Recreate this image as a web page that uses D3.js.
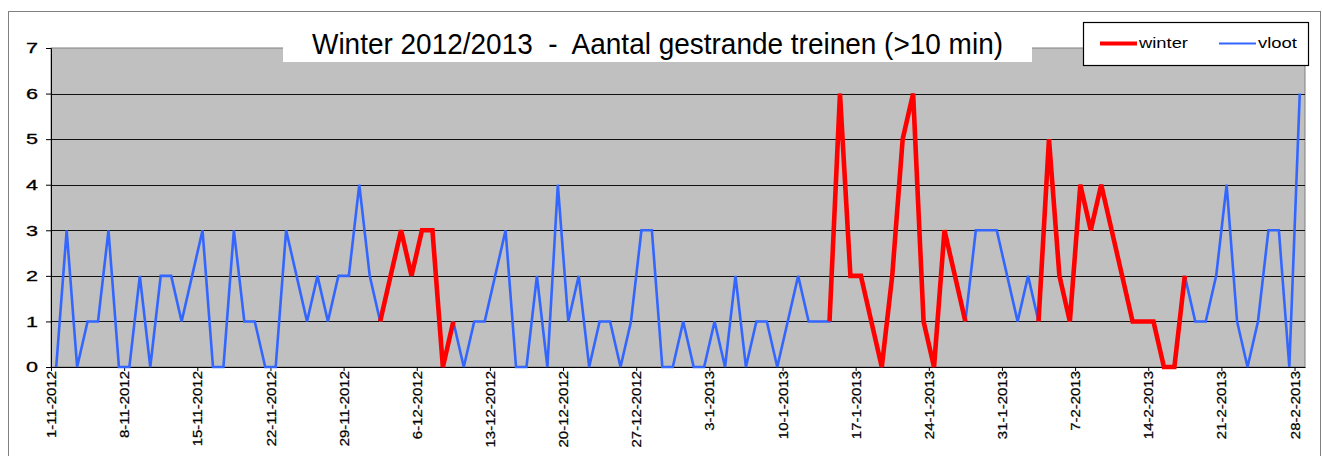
<!DOCTYPE html>
<html>
<head>
<meta charset="utf-8">
<script src="https://cdn.jsdelivr.net/npm/d3@7"></script>
<style>
  body { margin: 0; background: #fff; }
  svg text { font-family: "Liberation Sans", Arial, sans-serif; }
</style>
</head>
<body>
<svg id="chart" width="1322" height="456"></svg>
<script>
// aantal gestrande treinen per dag, 1-11-2012 t/m 28-2-2013 (120 dagen)
const vloot = [
  0, 3, 0, 1, 1, 3, 0, 0, 2, 0,
  2, 2, 1, 2, 3, 0, 0, 3, 1, 1,
  0, 0, 3, 2, 1, 2, 1, 2, 2, 4,
  2, 1, 2, 3, 2, 3, 3, 0, 1, 0,
  1, 1, 2, 3, 0, 0, 2, 0, 4, 1,
  2, 0, 1, 1, 0, 1, 3, 3, 0, 0,
  1, 0, 0, 1, 0, 2, 0, 1, 1, 0,
  1, 2, 1, 1, 1, 6, 2, 2, 1, 0,
  2, 5, 6, 1, 0, 3, 2, 1, 3, 3,
  3, 2, 1, 2, 1, 5, 2, 1, 4, 3,
  4, 3, 2, 1, 1, 1, 0, 0, 2, 1,
  1, 2, 4, 1, 0, 1, 3, 3, 0, 6
];

// winterperiodes (dagindex begin/eind, inclusief)
const winterPeriodes = [[31, 38], [74, 87], [94, 108]];

const tickLabels = [
  "1-11-2012", "8-11-2012", "15-11-2012", "22-11-2012", "29-11-2012",
  "6-12-2012", "13-12-2012", "20-12-2012", "27-12-2012", "3-1-2013",
  "10-1-2013", "17-1-2013", "24-1-2013", "31-1-2013", "7-2-2013",
  "14-2-2013", "21-2-2013", "28-2-2013"
];

const winter = vloot.map((v, i) =>
  winterPeriodes.some(p => i >= p[0] && i <= p[1]) ? v : null);

const svg = d3.select("#chart");
const plotLeft = 51, plotRight = 1305, plotTop = 48, plotBottom = 367;

// rand van de grafiek
svg.append("rect")
  .attr("x", 8.5).attr("y", 11.5)
  .attr("width", 1312).attr("height", 500)
  .attr("fill", "#fff").attr("stroke", "#808080");

const x = d3.scaleLinear().domain([0, vloot.length]).range([plotLeft, plotRight]);
const y = d3.scaleLinear().domain([0, 7]).range([plotBottom, plotTop]);

// plotvlak
svg.append("rect")
  .attr("x", plotLeft).attr("y", plotTop)
  .attr("width", plotRight - plotLeft).attr("height", plotBottom - plotTop)
  .attr("fill", "#c0c0c0").attr("stroke", "#808080");

// rasterlijnen
svg.append("g")
  .selectAll("line")
  .data(d3.range(1, 7))
  .enter().append("line")
  .attr("x1", plotLeft).attr("x2", plotRight)
  .attr("y1", d => Math.round(y(d)) + 0.5)
  .attr("y2", d => Math.round(y(d)) + 0.5)
  .attr("stroke", "#111").attr("stroke-width", 1);

// y-as
const yAxis = svg.append("g")
  .attr("transform", `translate(${plotLeft},0)`)
  .call(d3.axisLeft(y).ticks(7).tickSize(5).tickPadding(8));
yAxis.select(".domain").attr("stroke", "#000");
yAxis.selectAll("text")
  .attr("font-size", "15px")
  .attr("fill", "#000")
  .attr("stroke", "#000")
  .attr("stroke-width", 0.3)
  .attr("textLength", 12)
  .attr("lengthAdjust", "spacingAndGlyphs");

// x-as
const xAxis = svg.append("g")
  .attr("transform", `translate(0,${plotBottom})`)
  .call(d3.axisBottom(x)
    .tickValues(d3.range(0, vloot.length, 7))
    .tickFormat((d, i) => tickLabels[i])
    .tickSize(4).tickSizeOuter(0));
xAxis.select(".domain").attr("stroke", "#000");
xAxis.selectAll("text")
  .attr("font-size", "13px")
  .attr("fill", "#000")
  .attr("stroke", "#000")
  .attr("stroke-width", 0.25)
  .attr("text-anchor", "end")
  .attr("transform", "rotate(-90)")
  .attr("x", -4)
  .attr("y", 0)
  .attr("dy", "0.35em")
  .each(function() {
    const len = this.getComputedTextLength();
    d3.select(this).attr("textLength", len * 1.15).attr("lengthAdjust", "spacingAndGlyphs");
  });

const line = d3.line()
  .defined(d => d != null)
  .x((d, i) => x(i + 0.5))
  .y(d => y(d));

svg.append("path")
  .datum(vloot)
  .attr("fill", "none")
  .attr("stroke", "#3366ff")
  .attr("stroke-width", 2.6)
  .attr("stroke-linejoin", "miter")
  .attr("d", line);

svg.append("path")
  .datum(winter)
  .attr("fill", "none")
  .attr("stroke", "#ff0000")
  .attr("stroke-width", 4.6)
  .attr("stroke-linejoin", "miter")
  .attr("d", line);

// titel
svg.append("rect")
  .attr("x", 283).attr("y", 20)
  .attr("width", 749).attr("height", 42)
  .attr("fill", "#fff");

svg.append("text")
  .attr("x", 312).attr("y", 54)
  .attr("font-size", "29px")
  .attr("fill", "#000")
  .style("white-space", "pre")
  .attr("textLength", 691)
  .attr("lengthAdjust", "spacingAndGlyphs")
  .text("Winter 2012/2013  -  Aantal gestrande treinen (>10 min)");

// legenda
const legendData = [
  { label: "winter", color: "#ff0000", width: 4, x: 1100, len: 49 },
  { label: "vloot", color: "#3366ff", width: 2, x: 1219, len: 39 }
];

const legend = svg.append("g");
legend.append("rect")
  .attr("x", 1083.5).attr("y", 22.5)
  .attr("width", 225).attr("height", 43)
  .attr("fill", "#fff").attr("stroke", "#000").attr("stroke-width", 1.2);

legend.selectAll("line")
  .data(legendData)
  .enter().append("line")
  .attr("x1", d => d.x).attr("x2", d => d.x + 37)
  .attr("y1", 43.5).attr("y2", 43.5)
  .attr("stroke", d => d.color)
  .attr("stroke-width", d => d.width);

legend.selectAll("text")
  .data(legendData)
  .enter().append("text")
  .attr("x", d => d.x + 39)
  .attr("y", 48)
  .attr("font-size", "14px")
  .attr("fill", "#000")
  .attr("textLength", d => d.len)
  .attr("lengthAdjust", "spacingAndGlyphs")
  .text(d => d.label);
</script>
</body>
</html>
